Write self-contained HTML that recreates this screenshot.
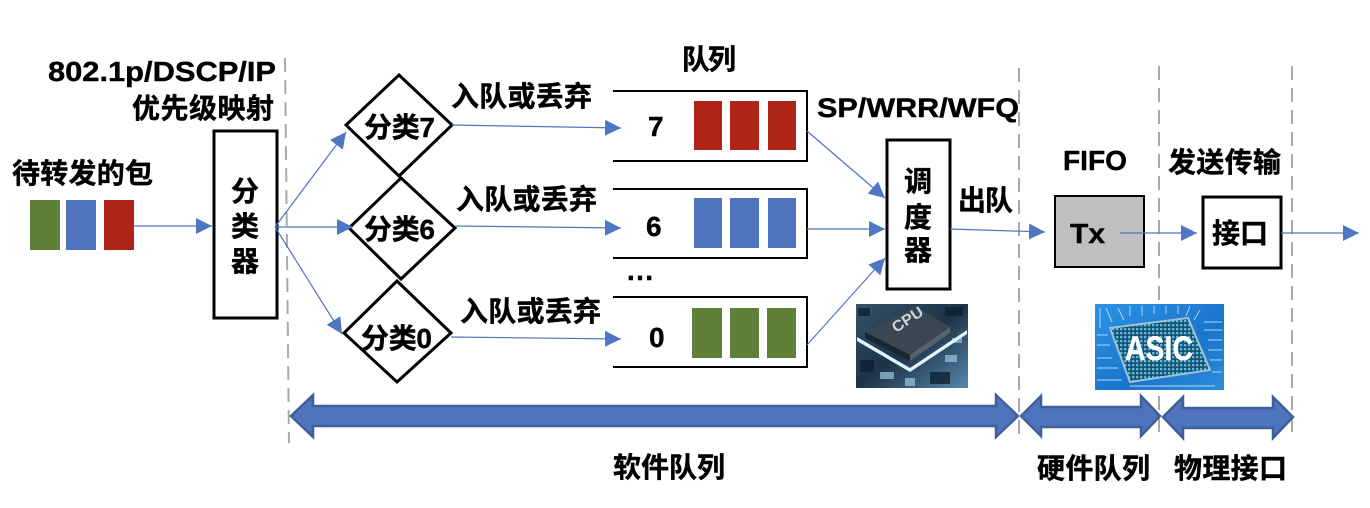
<!DOCTYPE html>
<html><head><meta charset="utf-8"><style>
html,body{margin:0;padding:0;background:#fff}
svg{display:block}
text{font-family:"Liberation Sans","Noto Sans CJK SC",sans-serif;font-weight:700;fill:#000;font-size:28px;stroke:#000;stroke-width:.4px}
</style></head><body>
<svg width="1370" height="508" viewBox="0 0 1370 508" xmlns="http://www.w3.org/2000/svg">
<defs>
<marker id="a" markerUnits="userSpaceOnUse" markerWidth="17" markerHeight="16" refX="16" refY="8" orient="auto"><path d="M0 0L16 8L0 16z" fill="#4f76c2"/></marker>
<linearGradient id="cpu" x1="0" y1="0" x2="1" y2="1"><stop offset="0" stop-color="#34536b"/><stop offset=".5" stop-color="#1d3347"/><stop offset="1" stop-color="#5688ad"/></linearGradient>
<linearGradient id="asic" x1="0" y1="0" x2="1" y2="1"><stop offset="0" stop-color="#2c93e6"/><stop offset=".6" stop-color="#1a74cc"/><stop offset="1" stop-color="#2c8edc"/></linearGradient>
<pattern id="dots" width="4" height="4" patternUnits="userSpaceOnUse"><rect width="4" height="4" fill="#14506f"/><rect width="2.4" height="2.4" fill="#5fb6d8"/></pattern>
</defs>
<!-- dashed -->
<g stroke="#a9a9a9" stroke-width="2" stroke-dasharray="14 8" fill="none">
<path d="M285 58L289 443"/><path d="M1019 68V438"/><path d="M1159 66V435"/><path d="M1292 66V437"/>
</g>
<!-- packets -->
<rect x="30" y="200" width="30" height="50" fill="#5f7f3b"/><rect x="66" y="200" width="30" height="50" fill="#4f74bd"/><rect x="104" y="200" width="30" height="50" fill="#ae2419"/>
<!-- classifier -->
<rect x="214" y="131" width="63" height="187" fill="#fff" stroke="#000" stroke-width="3"/>
<!-- diamonds -->
<g fill="#fff" stroke="#000" stroke-width="3">
<path d="M399 75L452 125L399 176L346 125z"/>
<path d="M401 178L455 228L401 279L349 228z"/>
<path d="M397 281L451 333L397 382L344 333z"/>
</g>
<!-- queues -->
<g fill="none" stroke="#000" stroke-width="2">
<path d="M613 91H807V161H613"/><path d="M613 189H807V258H613"/><path d="M613 297H807V367H613"/>
</g>
<g fill="#ae2419"><rect x="694" y="101" width="28" height="49"/><rect x="730" y="101" width="29" height="49"/><rect x="768" y="101" width="28" height="49"/></g>
<g fill="#4f74bd"><rect x="694" y="198" width="28" height="50"/><rect x="730" y="198" width="29" height="50"/><rect x="768" y="198" width="28" height="50"/></g>
<g fill="#5f7f3b"><rect x="692" y="308" width="30" height="50"/><rect x="730" y="308" width="29" height="50"/><rect x="767" y="308" width="29" height="50"/></g>
<!-- scheduler, tx, port -->
<rect x="887" y="140" width="63" height="149" fill="#fff" stroke="#000" stroke-width="3"/>
<rect x="1055" y="196" width="89" height="71" fill="#bfbfbf" stroke="#000" stroke-width="2"/>
<rect x="1203" y="197" width="78" height="71" fill="#fff" stroke="#000" stroke-width="3"/>
<!-- arrows -->
<g stroke="#4f76c2" stroke-width="1.2" fill="none" marker-end="url(#a)">
<path d="M134 226H212"/>
<path d="M275 227L346 132"/>
<path d="M275 227H353"/>
<path d="M275 227L342 334"/>
<path d="M452 125L621 128"/>
<path d="M455 226L621 228"/>
<path d="M451 337L621 339"/>
<path d="M807 131L885 198"/>
<path d="M807 229H885"/>
<path d="M807 345L885 258"/>
<path d="M950 229L1045 232"/>
<path d="M1120 233H1197"/>
<path d="M1281 233H1359"/>
</g>
<!-- block arrows -->
<g fill="#4f74bd" stroke="#3f5f98" stroke-width="2.5">
<path d="M291 416L313 395V406H996V395L1018 416L996 437V426H313V437z"/>
<path d="M1021 416L1041 396V407H1141V396L1160 416L1141 436V427H1041V436z"/>
<path d="M1163 417L1183 397V408H1273V397L1293 417L1273 438V428H1183V438z"/>
</g>
<!-- CPU image -->
<rect x="856" y="304" width="112" height="84" fill="url(#cpu)"/>
<g fill="#0f2233" opacity=".8"><rect x="858" y="308" width="12" height="8"/><rect x="945" y="307" width="18" height="9"/><rect x="860" y="360" width="14" height="12"/><rect x="930" y="372" width="20" height="12"/></g>
<g fill="#9cc6e2" opacity=".7"><rect x="880" y="372" width="14" height="7"/><rect x="905" y="378" width="10" height="8"/><rect x="945" y="355" width="12" height="7"/><rect x="952" y="338" width="10" height="5"/></g>
<path d="M857 337L910 368L967 330V334L910 372L857 341z" fill="#e4f4ff"/>
<path d="M865 332L915 306L950 327L910 355z" fill="#3a4650"/>
<path d="M865 332L910 355V361L865 338z" fill="#1a2731"/><path d="M910 355L950 327V333L910 361z" fill="#56636e"/>
<text transform="translate(896 333) rotate(-33) scale(1 .95)" style="fill:#ccd6dc;stroke:none;font-size:16px" textLength="34">CPU</text>
<!-- ASIC image -->
<rect x="1095" y="304" width="129" height="86" fill="url(#asic)"/>
<g stroke="#c6e6fb" stroke-width="1" fill="none" opacity=".85"><path d="M1100 308V328M1106 308L1112 322M1118 308L1124 320M1130 306V316M1142 306V316M1154 306V314M1166 306V314M1178 306V314M1190 306L1186 316M1200 310L1194 320M1204 322H1222M1204 330H1222M1208 340H1222M1208 350H1222M1210 360H1222M1212 372H1222M1097 335H1108M1097 345H1110M1097 358H1112M1097 368H1118M1097 380H1122M1130 386H1215"/></g>
<path d="M1110 328L1188 318L1210 370L1130 382z" fill="url(#dots)" stroke="#9cc4d8" stroke-width="2"/>
<text x="1125" y="360" style="fill:#fff;stroke:#fff;font-size:34px" textLength="68" lengthAdjust="spacingAndGlyphs">ASIC</text>
<!-- labels -->
<text x="48" y="81" textLength="228" lengthAdjust="spacingAndGlyphs">802.1p/DSCP/IP</text>
<text x="132" y="118" textLength="142">优先级映射</text>
<text x="12" y="183" textLength="141">待转发的包</text>
<text x="231" y="201">分</text><text x="231" y="236">类</text><text x="231" y="271">器</text>
<text x="904" y="191">调</text><text x="904" y="227">度</text><text x="904" y="260">器</text>
<text x="364" y="137" textLength="71">分类7</text>
<text x="364" y="239" textLength="71">分类6</text>
<text x="361" y="348" textLength="71">分类0</text>
<text x="451" y="106" textLength="141">入队或丢弃</text>
<text x="456" y="209" textLength="141">入队或丢弃</text>
<text x="460" y="321" textLength="141">入队或丢弃</text>
<text x="682" y="69" textLength="54">队列</text>
<text x="817" y="117" style="font-size:27px" textLength="202" lengthAdjust="spacingAndGlyphs">SP/WRR/WFQ</text>
<text x="958" y="210" textLength="55">出队</text>
<text x="1063" y="170" textLength="64" lengthAdjust="spacingAndGlyphs">FIFO</text>
<text x="1168" y="172" textLength="113">发送传输</text>
<text x="1070" y="243" textLength="35" lengthAdjust="spacingAndGlyphs">Tx</text>
<text x="1212" y="243" textLength="56">接口</text>
<text x="648" y="136">7</text>
<text x="646" y="236">6</text>
<text x="649" y="347">0</text>
<text x="627" y="280" textLength="26">...</text>
<text x="613" y="477" textLength="112">软件队列</text>
<text x="1037" y="478" textLength="113">硬件队列</text>
<text x="1174" y="478" textLength="113">物理接口</text>
</svg>
</body></html>
